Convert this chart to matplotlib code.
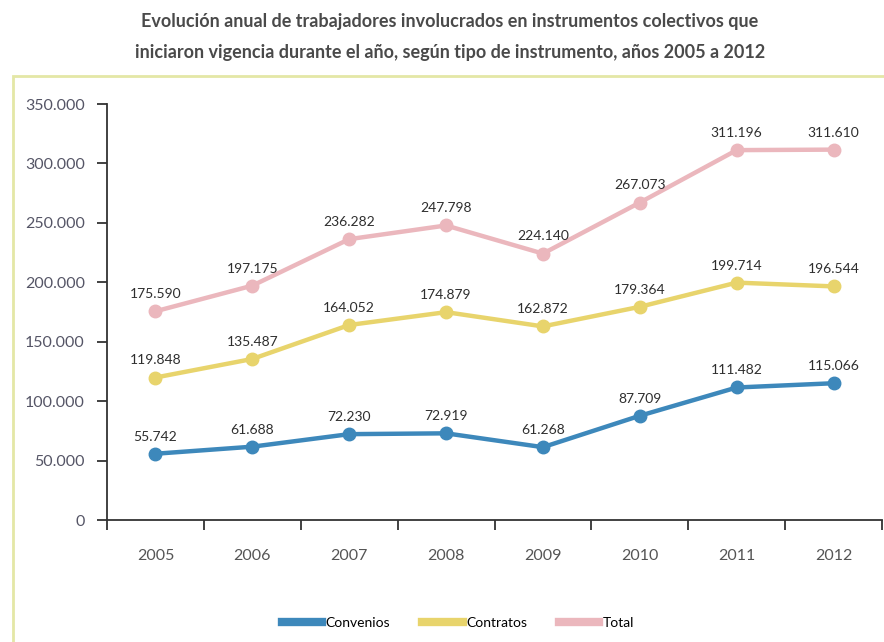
import matplotlib
matplotlib.use("Agg")
import matplotlib.pyplot as plt
from matplotlib.patches import Rectangle
from matplotlib.ticker import FuncFormatter

years = ["2005", "2006", "2007", "2008", "2009", "2010", "2011", "2012"]
convenios = [55742, 61688, 72230, 72919, 61268, 87709, 111482, 115066]
contratos = [119848, 135487, 164052, 174879, 162872, 179364, 199714, 196544]
total = [175590, 197175, 236282, 247798, 224140, 267073, 311196, 311610]
series_names = ["Convenios", "Contratos", "Total"]
colors = ["#3d88bb", "#e8d46c", "#ebb7bd"]
title = ("Evolución anual de trabajadores involucrados en instrumentos colectivos que\n"
         "iniciaron vigencia durante el año, según tipo de instrumento, años 2005 a 2012")

plt.rcParams['font.family'] = ['Lato', 'DejaVu Sans']

W, H = 884, 642
fig = plt.figure(figsize=(W / 100, H / 100), dpi=100)
fig.patch.set_facecolor("white")

# frame
fig.patches.append(Rectangle((13 / W, -0.01), 1.0, (H - 76) / H + 0.01,
                             transform=fig.transFigure, fill=False,
                             edgecolor="#e4e7a6", linewidth=2.0))

fig.text(450 / W, 1 - 37 / H, title, ha="center", va="center", fontsize=13,
         fontweight="bold", color="#4a4a4a", linespacing=1.95)

ax = fig.add_axes([107 / W, (H - 520) / H, (882 - 107) / W, (520 - 104) / H])
x = list(range(len(years)))
for vals, name, c in zip([convenios, contratos, total], series_names, colors):
    ax.plot(x, vals, color=c, lw=3.2, marker="o", markersize=9, label=name,
            solid_joinstyle="round")
    for xi, v in zip(x, vals):
        ax.annotate(f"{v:,}".replace(",", "."), (xi, v), xytext=(0, 8),
                    textcoords="offset points", ha="center", va="bottom",
                    fontsize=10, color="#2e2e2e")

ax.set_xlim(-0.5, len(years) - 0.5)
ax.set_ylim(0, 350000)
ax.set_yticks(range(0, 350001, 50000))
ax.yaxis.set_major_formatter(FuncFormatter(lambda v, p: f"{int(v):,}".replace(",", ".")))
ax.set_xticks([i - 0.5 for i in range(len(years) + 1)])
ax.set_xticklabels([])
ax.set_xticks(x, minor=True)
ax.set_xticklabels(years, minor=True)
ax.tick_params(axis="x", which="minor", length=0, pad=21, labelsize=11.5, labelcolor="#555555")
ax.tick_params(axis="x", which="major", length=7, width=1.3, direction="out", color="#333333")
ax.tick_params(axis="y", length=7, width=1.3, pad=9, labelsize=11.5, labelcolor="#555566", color="#333333")
for s in ["top", "right"]:
    ax.spines[s].set_visible(False)
for s in ["left", "bottom"]:
    ax.spines[s].set_linewidth(1.3)
    ax.spines[s].set_color("#333333")

handles = [plt.Line2D([], [], color=c, lw=6) for c in colors]
fig.legend(handles, series_names, loc="center", bbox_to_anchor=(458 / W, 1 - 623 / H),
           ncol=3, frameon=False, fontsize=10, handlelength=2.9, handletextpad=0.25,
           columnspacing=2.3)

fig.savefig("out.png", dpi=100)
